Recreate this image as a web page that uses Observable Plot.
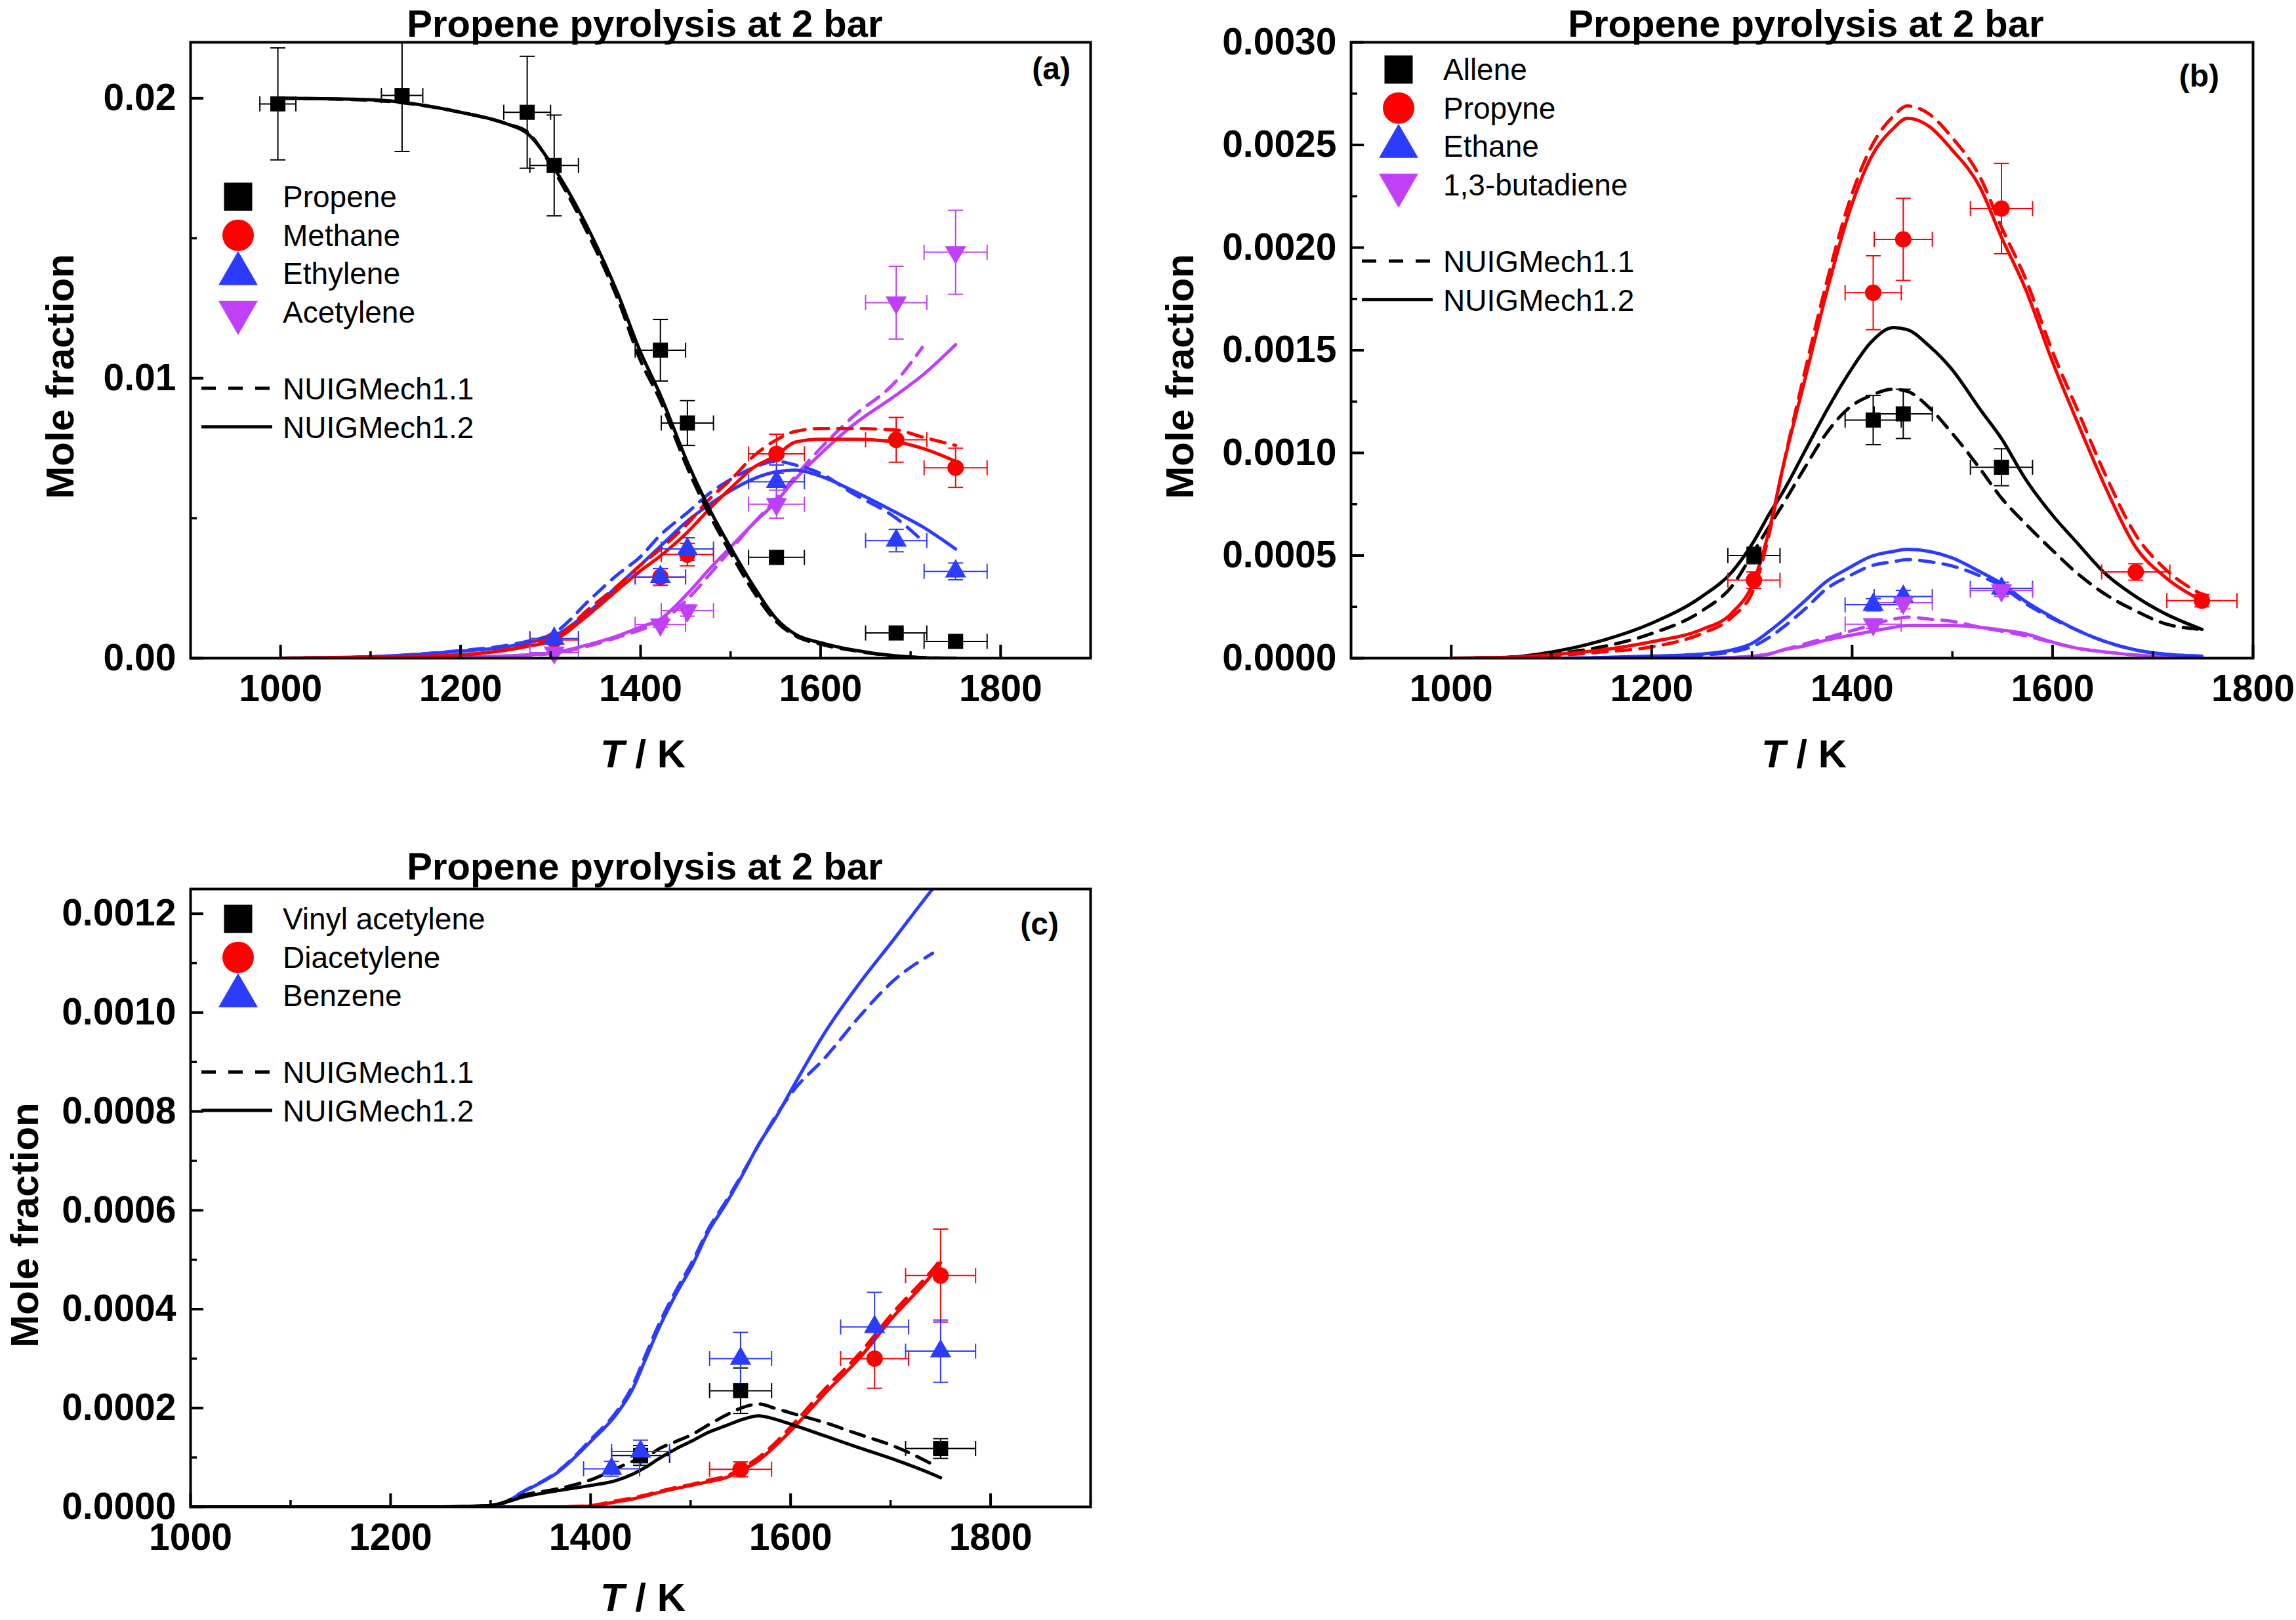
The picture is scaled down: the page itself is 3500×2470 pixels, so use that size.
<!DOCTYPE html>
<html>
<head>
<meta charset="utf-8">
<script src="https://cdn.jsdelivr.net/npm/d3@7"></script>
<script src="https://cdn.jsdelivr.net/npm/@observablehq/plot@0.6"></script>
<style>
html, body { margin: 0; padding: 0; background: #fff; }
#page { position: relative; width: 3500px; height: 2470px; overflow: hidden; background: #fff; }
#page svg { position: absolute; }
</style>
</head>
<body>
<div id="page"></div>
<script>
// ---------------- colours ----------------
const BLACK = "#000000", RED = "#ff0000", BLUE = "#2b3cff", PURPLE = "#c040f8";
const FONT = '"Liberation Sans", Arial, Helvetica, sans-serif';

// ---------------- panel (a) data ----------------
const titleText = "Propene pyrolysis at 2 bar";
const tempsA = [1000,1100,1200,1250,1274,1304,1344,1375,1399,1422,1452,1477,1501,1525,1551,1572,1600,1635,1684,1713,1750];
const propene12   = [0.0200,0.01995,0.0195,0.0191,0.01875,0.0175,0.0152,0.0130,0.0110,0.0094,0.0070,0.0053,0.0039,0.0026,0.0014,0.00085,0.00055,0.0003,0.00008,0.00002,0];
const propene11   = [0.0200,0.01993,0.0195,0.0191,0.0188,0.0174,0.0150,0.0128,0.0107,0.0092,0.0068,0.0051,0.0037,0.0024,0.0013,0.0008,0.0005,0.00028,0.00007,0.00002,0];
const methane12   = [0,0.00003,0.00012,0.00028,0.00042,0.00065,0.0016,0.00245,0.0031,0.00365,0.0045,0.00535,0.0061,0.0068,0.00725,0.00772,0.00782,0.00782,0.00772,0.0075,0.00703];
const methane11   = [0,0.00003,0.00012,0.0003,0.00045,0.0007,0.0018,0.0026,0.0033,0.0039,0.0048,0.0057,0.0064,0.0072,0.0078,0.0081,0.0082,0.0082,0.00815,0.0079,0.0076];
const ethylene12  = [0,0.00005,0.00025,0.0004,0.00055,0.0008,0.0017,0.0026,0.0033,0.004,0.0049,0.0055,0.006,0.0064,0.00666,0.00672,0.0065,0.006,0.0052,0.0047,0.0039];
const ethylene11  = [0,0.00005,0.00027,0.00045,0.0006,0.0009,0.0021,0.003,0.0036,0.0044,0.0052,0.0059,0.0064,0.0068,0.00703,0.0069,0.0066,0.0059,0.005,0.0042,null];
const acetylene12 = [0,0,0.00003,0.00008,0.00012,0.0002,0.0005,0.0008,0.0011,0.0014,0.0023,0.0032,0.004,0.0048,0.0056,0.0064,0.0073,0.0083,0.0094,0.0101,0.0112];
const acetylene11 = [0,0,0.00003,0.00007,0.0001,0.00018,0.00045,0.00075,0.001,0.0013,0.0021,0.003,0.0039,0.0048,0.0057,0.0065,0.0075,0.0086,0.0099,0.0111,null];

const propeneT = [997,1135,1274,1304,1422,1452,1551,1684,1750];
const propeneV = [0.0198,0.0201,0.0195,0.0176,0.0110,0.0084,0.0036,0.0009,0.0006];
const propeneYErr = [0.0020,0.0020,0.0020,0.0018,0.0011,0.0008,0.0002,0.0001,0.0001];
const propeneXErr = [20,23,26,27,28,29,31,34,35];
const expT_A = [1304,1422,1452,1551,1684,1750];
const expXErr_A = [27,28,29,31,34,35];
const methaneV = [0.00065,0.0029,0.0037,0.0073,0.0078,0.0068];
const methaneYErr = [0.0001,0.0003,0.0004,0.0007,0.0008,0.0007];
const ethyleneV = [0.0007,0.0029,0.0039,0.0063,0.0042,0.0031];
const ethyleneYErr = [0.0001,0.0003,0.0004,0.0006,0.0004,0.0003];
const acetyleneV = [0.0002,0.0012,0.0017,0.0055,0.0127,0.0145];
const acetyleneYErr = [0.00003,0.0001,0.0002,0.0005,0.0013,0.0015];

// ---------------- panel (b) data ----------------
const tempsB = [1000,1050,1100,1150,1200,1250,1280,1302,1317,1331,1353,1375,1397,1419,1441,1455,1477,1499,1528,1549,1572,1601,1623,1653,1683,1711,1749];
const propyne12   = [0,0.000003,0.000017,0.00004,0.00008,0.00014,0.00022,0.000376,0.00062,0.00093,0.00136,0.00179,0.00217,0.00244,0.00258,0.00263,0.00259,0.00248,0.00229,0.00205,0.00181,0.00143,0.00117,0.00083,0.00054,0.0004,0.00028];
const propyne11   = [0,0.000002,0.000012,0.00003,0.000055,0.00012,0.0002,0.00034,0.0006,0.00093,0.0014,0.00184,0.00222,0.00249,0.00264,0.00269,0.00265,0.00254,0.00234,0.0021,0.00186,0.00148,0.00123,0.00089,0.0006,0.00044,0.00031];
const allene12    = [0,0.000003,0.00003,0.000085,0.00017,0.0003,0.00042,0.00057,0.0007,0.00081,0.00101,0.00121,0.00139,0.00154,0.00161,0.0016,0.00152,0.00141,0.00121,0.00107,0.00088,0.00069,0.00057,0.00041,0.0003,0.00022,0.00014];
const allene11    = [0,0.000002,0.00002,0.000055,0.00012,0.00023,0.00035,0.00052,0.00064,0.00075,0.00093,0.0011,0.00122,0.00128,0.00131,0.0013,0.00122,0.0011,0.00092,0.00078,0.00066,0.00052,0.00042,0.00031,0.00023,0.00017,0.00014];
const ethane12    = [0,0,0,0.000003,0.00001,0.00002,0.00004,0.000077,0.00013,0.000185,0.00028,0.000376,0.00044,0.000496,0.00052,0.00053,0.00052,0.00049,0.00042,0.000364,0.00028,0.000196,0.00014,0.00008,0.00004,0.00002,0.00001];
const ethane11    = [0,0,0,0.000002,0.000008,0.000016,0.00003,0.00006,0.0001,0.00015,0.00024,0.00034,0.0004,0.00045,0.00047,0.00048,0.00047,0.00045,0.0004,0.00035,0.00027,0.00019,0.00014,0.00008,0.00004,0.00002,0.00001];
const butadiene12 = [0,0,0,0,0,0,0.000003,0.00001,0.00002,0.00004,0.00006,0.000089,0.00011,0.00013,0.00015,0.00016,0.00016,0.00016,0.00015,0.000137,0.00012,0.000077,0.00005,0.00003,0.000015,0.000008,0.000005];
const butadiene11 = [0,0,0,0,0,0,0.000003,0.00001,0.00002,0.00004,0.00007,0.0001,0.00013,0.00016,0.00019,0.0002,0.00019,0.00018,0.00015,0.000132,0.00011,0.000075,0.00005,0.00003,0.000015,0.000008,0.000005];

const alleneT = [1302,1421,1451,1549];
const alleneV = [0.0005,0.00116,0.00119,0.00093];
const alleneYErr = [0.00004,0.00012,0.00012,0.00009];
const alleneXErr = [26,28,29,31];
const propyneT = [1302,1421,1451,1549,1683,1749];
const propyneV = [0.00038,0.00178,0.00204,0.00219,0.00042,0.00028];
const propyneYErr = [0.00004,0.00018,0.0002,0.00022,0.00004,0.00003];
const propyneXErr = [26,28,29,31,34,35];
const ethaneT = [1421,1451,1549];
const ethaneV = [0.00026,0.0003,0.00034];
const ethaneYErr = [0.00003,0.00003,0.00003];
const ethaneXErr = [28,29,31];
const butadieneV = [0.000165,0.00027,0.00033];
const butadieneYErr = [0.00002,0.00003,0.00003];

// ---------------- panel (c) data ----------------
const tempsC = [1000,1100,1200,1250,1300,1335,1368,1402,1425,1442,1455,1468,1485,1502,1518,1535,1552,1568,1585,1602,1635,1668,1702,1742,1750];
const benzene12     = [0,0,0,0,0,0.000033,0.000071,0.000136,0.000185,0.000238,0.000299,0.00036,0.000429,0.00049,0.000558,0.000612,0.000672,0.000733,0.000787,0.000848,0.000962,0.001057,0.001145,0.00125,0.00127];
const benzene11     = [0,0,0,0,0,0.000034,0.000073,0.00014,0.00019,0.000245,0.000307,0.000368,0.000436,0.000497,0.000563,0.000617,0.000675,0.000732,0.00079,0.00084,0.00091,0.00099,0.001063,0.00112,null];
const vinyl12       = [0,0,0,0,0.000003,0.000021,0.000033,0.000044,0.000053,0.000066,0.00008,0.000097,0.000117,0.000134,0.000151,0.000164,0.000177,0.000184,0.000177,0.000166,0.000143,0.00012,0.000097,0.000066,0.000059];
const vinyl11       = [0,0,0,0,0.000003,0.000025,0.000037,0.000056,0.000077,0.000092,0.0001,0.000117,0.000132,0.000147,0.000166,0.000185,0.000201,0.000208,0.000199,0.000189,0.00017,0.000147,0.000124,0.000086,null];
const diacetylene12 = [0,0,0,0,0,0,0,0.000002,0.00001,0.000016,0.000022,0.000029,0.000037,0.000044,0.000051,0.000059,0.000075,0.000094,0.000124,0.000158,0.000231,0.000299,0.000383,0.000472,0.000494];
const diacetylene11 = [0,0,0,0,0,0,0,0.000003,0.000012,0.000018,0.000024,0.000031,0.000039,0.000046,0.000054,0.000062,0.000079,0.0001,0.00013,0.000166,0.00024,0.000308,0.000392,0.00048,0.0005];

const vinylT = [1450,1550,1750];
const vinylV = [0.000104,0.000235,0.000118];
const vinylYErr = [0.00002,0.000046,0.00002];
const vinylXErr = [29,31,35];
const diacetyleneT = [1550,1684,1750];
const diacetyleneV = [0.000076,0.0003,0.000468];
const diacetyleneYErr = [0.000015,0.00006,0.000094];
const diacetyleneXErr = [31,34,35];
const benzeneT = [1421,1450,1550,1684,1750];
const benzeneV = [0.000077,0.000112,0.0003,0.000364,0.000315];
const benzeneYErr = [0.000015,0.000023,0.000053,0.00007,0.000063];
const benzeneXErr = [28,29,31,34,35];

// ---------------- ticks ----------------
const xMajorTicks = [1000,1200,1400,1600,1800];
const xMinorTicks = [1100,1300,1500,1700];
const xMinorTicksC = [1100,1300,1500,1700,1900];
const yMajorA = [0,0.01,0.02];
const yMinorA = [0.005,0.015];
const yMajorB = [0,0.0005,0.001,0.0015,0.002,0.0025,0.003];
const yMinorB = [0.00025,0.00075,0.00125,0.00175,0.00225,0.00275];
const yMajorC = [0,0.0002,0.0004,0.0006,0.0008,0.001,0.0012];
const yMinorC = [0.0001,0.0003,0.0005,0.0007,0.0009,0.0011];

const mechLabels = ["NUIGMech1.1", "NUIGMech1.2"];

// ---------------- helpers ----------------
const capH = {draw(ctx) { ctx.moveTo(-11.5, 0); ctx.lineTo(11.5, 0); }};
const capV = {draw(ctx) { ctx.moveTo(0, -11.5); ctx.lineTo(0, 11.5); }};

function panel(cfg) {
  const {svgLeft, svgTop, svgW, svgH, fl, fr, ft, fb} = cfg;
  const fw = fr - fl, fh = fb - ft;
  const marks = [];
  for (const c of cfg.curves) {
    const rows = cfg.temps.map((T, i) => ({T, v: c.values[i]})).filter(d => d.v != null);
    marks.push(Plot.line(rows, {
      x: "T", y: "v", stroke: c.color, strokeWidth: 5,
      strokeDasharray: c.dashed ? "22,14" : null,
      curve: "monotone-x", clip: true
    }));
  }
  const seriesRows = cfg.series.map(s => s.T.map((T, i) => ({T, v: s.V[i], ye: s.YErr[i], xe: s.XErr[i]})));
  cfg.series.forEach((s, k) => {
    const rows = seriesRows[k];
    const o = {stroke: s.color, strokeWidth: 2, clip: true};
    marks.push(Plot.ruleY(rows, {y: "v", x1: d => d.T - d.xe, x2: d => d.T + d.xe, ...o}));
    marks.push(Plot.ruleX(rows, {x: "T", y1: d => d.v - d.ye, y2: d => d.v + d.ye, ...o}));
    marks.push(Plot.dot(rows, {x: d => d.T - d.xe, y: "v", symbol: capV, fill: "none", ...o}));
    marks.push(Plot.dot(rows, {x: d => d.T + d.xe, y: "v", symbol: capV, fill: "none", ...o}));
    marks.push(Plot.dot(rows, {x: "T", y: d => d.v - d.ye, symbol: capH, fill: "none", ...o}));
    marks.push(Plot.dot(rows, {x: "T", y: d => d.v + d.ye, symbol: capH, fill: "none", ...o}));
  });
  cfg.series.forEach((s, k) => {
    marks.push(Plot.dot(seriesRows[k], {
      x: "T", y: "v", symbol: s.symbol, r: s.r, fill: s.color, stroke: "none",
      rotate: s.rotate || 0
    }));
  });
  // ticks (inward)
  marks.push(Plot.tickX(cfg.xMajor, {x: d => d, insetTop: fh - 20, stroke: BLACK, strokeWidth: 4}));
  marks.push(Plot.tickX(cfg.xMinor, {x: d => d, insetTop: fh - 10, stroke: BLACK, strokeWidth: 3.5}));
  marks.push(Plot.tickY(cfg.yMajor, {y: d => d, insetRight: fw - 20, stroke: BLACK, strokeWidth: 4}));
  marks.push(Plot.tickY(cfg.yMinor, {y: d => d, insetRight: fw - 10, stroke: BLACK, strokeWidth: 3.5}));
  marks.push(Plot.axisX(cfg.xMajor, {tickSize: 0, tickPadding: 25, tickFormat: d => String(d), label: null}));
  marks.push(Plot.axisY(cfg.yMajor, {tickSize: 0, tickPadding: 22, tickFormat: d3.format(cfg.yFormat), label: null}));
  marks.push(Plot.frame({stroke: BLACK, strokeWidth: 4}));

  const svg = Plot.plot({
    width: svgW, height: svgH,
    marginLeft: fl - svgLeft, marginRight: svgLeft + svgW - fr,
    marginTop: ft - svgTop, marginBottom: svgTop + svgH - fb,
    x: {domain: cfg.xDomain, label: null},
    y: {domain: cfg.yDomain, label: null},
    style: {fontFamily: FONT, fontSize: "57px", fontWeight: "bold", background: "transparent", overflow: "visible", color: "#000"},
    marks
  });
  svg.style.left = svgLeft + "px";
  svg.style.top = svgTop + "px";
  document.getElementById("page").appendChild(svg);
}

// ---------------- panel (a) ----------------
panel({
  svgLeft: 0, svgTop: 0, svgW: 1700, svgH: 1100, fl: 290, fr: 1662, ft: 64, fb: 1003,
  xDomain: [900, 1900], yDomain: [0, 0.022], yFormat: ".2f",
  xMajor: xMajorTicks, xMinor: xMinorTicks, yMajor: yMajorA, yMinor: yMinorA,
  temps: tempsA,
  curves: [
    {values: acetylene11, color: PURPLE, dashed: true},
    {values: acetylene12, color: PURPLE},
    {values: ethylene11, color: BLUE, dashed: true},
    {values: ethylene12, color: BLUE},
    {values: methane11, color: RED, dashed: true},
    {values: methane12, color: RED},
    {values: propene11, color: BLACK, dashed: true},
    {values: propene12, color: BLACK}
  ],
  series: [
    {T: propeneT, V: propeneV, YErr: propeneYErr, XErr: propeneXErr, color: BLACK, symbol: "square", r: 13},
    {T: expT_A, V: methaneV, YErr: methaneYErr, XErr: expXErr_A, color: RED, symbol: "circle", r: 12.5},
    {T: expT_A, V: ethyleneV, YErr: ethyleneYErr, XErr: expXErr_A, color: BLUE, symbol: "triangle", r: 12},
    {T: expT_A, V: acetyleneV, YErr: acetyleneYErr, XErr: expXErr_A, color: PURPLE, symbol: "triangle", r: 12, rotate: 180}
  ]
});

// ---------------- panel (b) ----------------
panel({
  svgLeft: 1750, svgTop: 0, svgW: 1750, svgH: 1100, fl: 2059, fr: 3434, ft: 64, fb: 1003,
  xDomain: [900, 1800], yDomain: [0, 0.003], yFormat: ".4f",
  xMajor: xMajorTicks, xMinor: xMinorTicks, yMajor: yMajorB, yMinor: yMinorB,
  temps: tempsB,
  curves: [
    {values: butadiene11, color: PURPLE, dashed: true},
    {values: butadiene12, color: PURPLE},
    {values: ethane11, color: BLUE, dashed: true},
    {values: ethane12, color: BLUE},
    {values: allene11, color: BLACK, dashed: true},
    {values: allene12, color: BLACK},
    {values: propyne11, color: RED, dashed: true},
    {values: propyne12, color: RED}
  ],
  series: [
    {T: alleneT, V: alleneV, YErr: alleneYErr, XErr: alleneXErr, color: BLACK, symbol: "square", r: 13},
    {T: propyneT, V: propyneV, YErr: propyneYErr, XErr: propyneXErr, color: RED, symbol: "circle", r: 12.5},
    {T: ethaneT, V: ethaneV, YErr: ethaneYErr, XErr: ethaneXErr, color: BLUE, symbol: "triangle", r: 12},
    {T: ethaneT, V: butadieneV, YErr: butadieneYErr, XErr: ethaneXErr, color: PURPLE, symbol: "triangle", r: 12, rotate: 180}
  ]
});

// ---------------- panel (c) ----------------
panel({
  svgLeft: 0, svgTop: 1250, svgW: 1700, svgH: 1150, fl: 290, fr: 1662, ft: 1355, fb: 2297,
  xDomain: [1000, 1900], yDomain: [0, 0.00125], yFormat: ".4f",
  xMajor: xMajorTicks, xMinor: xMinorTicksC, yMajor: yMajorC, yMinor: yMinorC,
  temps: tempsC,
  curves: [
    {values: benzene11, color: BLUE, dashed: true},
    {values: benzene12, color: BLUE},
    {values: diacetylene11, color: RED, dashed: true},
    {values: diacetylene12, color: RED},
    {values: vinyl11, color: BLACK, dashed: true},
    {values: vinyl12, color: BLACK}
  ],
  series: [
    {T: vinylT, V: vinylV, YErr: vinylYErr, XErr: vinylXErr, color: BLACK, symbol: "square", r: 13},
    {T: diacetyleneT, V: diacetyleneV, YErr: diacetyleneYErr, XErr: diacetyleneXErr, color: RED, symbol: "circle", r: 12.5},
    {T: benzeneT, V: benzeneV, YErr: benzeneYErr, XErr: benzeneXErr, color: BLUE, symbol: "triangle", r: 12}
  ]
});

// ---------------- overlay: titles, labels, legends ----------------
const overlay = d3.select("#page").append("svg")
  .attr("width", 3500).attr("height", 2470)
  .style("left", "0px").style("top", "0px")
  .style("font-family", FONT).style("pointer-events", "none");

function txt(x, y, s, size, weight, anchor) {
  return overlay.append("text").attr("x", x).attr("y", y)
    .attr("font-size", size).attr("font-weight", weight)
    .attr("text-anchor", anchor).attr("fill", "#000").text(s);
}
// titles
txt(983, 56, titleText, 58, "bold", "middle");
txt(2753, 56, titleText, 58, "bold", "middle");
txt(983, 1341, titleText, 58, "bold", "middle");
// panel letters
txt(1632, 121, "(a)", 48, "bold", "end");
txt(3383, 132, "(b)", 48, "bold", "end");
txt(1614, 1425, "(c)", 48, "bold", "end");
// y labels
[[112, 574], [1819, 574], [58, 1868]].forEach(([x, y]) => {
  overlay.append("text").attr("transform", `translate(${x},${y}) rotate(-90)`)
    .attr("text-anchor", "middle").attr("font-size", 60).attr("font-weight", "bold")
    .attr("fill", "#000").text("Mole fraction");
});
// x labels
[[980, 1170], [2750, 1170], [980, 2456]].forEach(([x, y]) => {
  const t = overlay.append("text").attr("x", x).attr("y", y).attr("text-anchor", "middle")
    .attr("font-size", 60).attr("font-weight", "bold").attr("fill", "#000");
  t.append("tspan").attr("font-style", "italic").text("T");
  t.append("tspan").text(" / K");
});

// legends
const legendA = [
  {label: "Propene", color: BLACK, type: d3.symbolSquare, size: 1849, rot: 0},
  {label: "Methane", color: RED, type: d3.symbolCircle, size: 1810, rot: 0},
  {label: "Ethylene", color: BLUE, type: d3.symbolTriangle, size: 1560, rot: 0},
  {label: "Acetylene", color: PURPLE, type: d3.symbolTriangle, size: 1560, rot: 180}
];
const legendB = [
  {label: "Allene", color: BLACK, type: d3.symbolSquare, size: 1849, rot: 0},
  {label: "Propyne", color: RED, type: d3.symbolCircle, size: 1810, rot: 0},
  {label: "Ethane", color: BLUE, type: d3.symbolTriangle, size: 1560, rot: 0},
  {label: "1,3-butadiene", color: PURPLE, type: d3.symbolTriangle, size: 1560, rot: 180}
];
const legendC = [
  {label: "Vinyl acetylene", color: BLACK, type: d3.symbolSquare, size: 1849, rot: 0},
  {label: "Diacetylene", color: RED, type: d3.symbolCircle, size: 1810, rot: 0},
  {label: "Benzene", color: BLUE, type: d3.symbolTriangle, size: 1560, rot: 0}
];

function legend(fl, ft, firstBaseline, items) {
  const step = 58.7;
  items.forEach((it, i) => {
    const by = ft + firstBaseline + i * step;
    overlay.append("path")
      .attr("d", d3.symbol().type(it.type).size(it.size)())
      .attr("transform", `translate(${fl + 73},${by - 16}) rotate(${it.rot})`)
      .attr("fill", it.color);
    txt(fl + 141, by, it.label, 46, "normal", "start");
  });
  const lb = ft + firstBaseline + (items.length - 1) * step + 117;
  mechLabels.forEach((m, j) => {
    const by = lb + j * step;
    overlay.append("line").attr("x1", fl + 17).attr("x2", fl + 125)
      .attr("y1", by - 17).attr("y2", by - 17)
      .attr("stroke", "#000").attr("stroke-width", 5)
      .attr("stroke-dasharray", j === 0 ? "22,19" : null);
    txt(fl + 141, by, m, 46, "normal", "start");
  });
}
legend(290, 64, 252, legendA);
legend(2059, 64, 58, legendB);
legend(290, 1355, 62, legendC);
</script>
</body>
</html>
